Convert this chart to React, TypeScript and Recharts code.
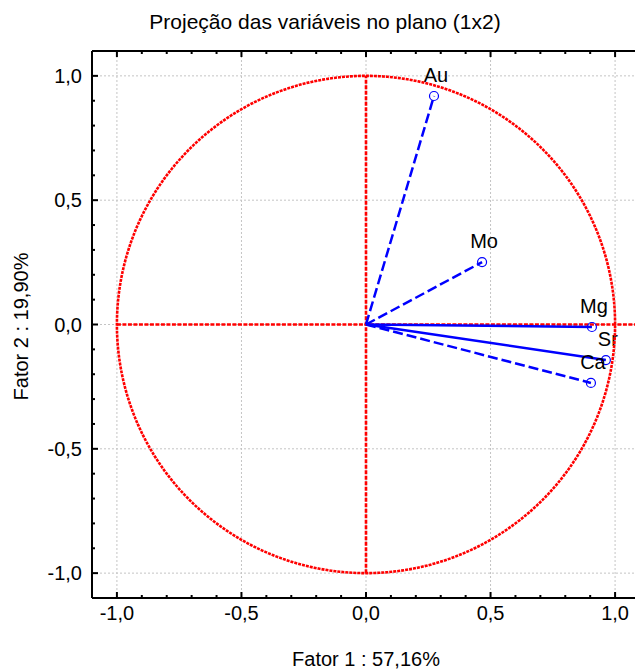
import { ReferenceLine, Scatter, ScatterChart, XAxis, YAxis } from "recharts";

const VARIABLES = ["Au", "Mo", "Mg", "Sr", "Ca"];
const FACTOR_1 = [0.273, 0.466, 0.907, 0.963, 0.903];
const FACTOR_2 = [0.919, 0.251, -0.01, -0.143, -0.235];
const DASHED = [true, true, false, false, true];

const AXIS_TICKS = [
  -1.0, -0.9, -0.8, -0.7, -0.6, -0.5, -0.4, -0.3, -0.2, -0.1, 0.0,
  0.1, 0.2, 0.3, 0.4, 0.5, 0.6, 0.7, 0.8, 0.9, 1.0,
];
const GRID_VALUES = [-1.0, -0.5, 0.0, 0.5, 1.0];
const DOMAIN: [number, number] = [-1.1, 1.1];

// correlation circle (radius 1) – a reference shape, not read from the picture
const UNIT_CIRCLE = Array.from({ length: 361 }, (_, i) => ({
  x: Math.cos((i * Math.PI) / 180),
  y: Math.sin((i * Math.PI) / 180),
}));

const vectors = VARIABLES.map((name, i) => ({
  name,
  dashed: DASHED[i],
  data: [
    { x: 0, y: 0 },
    { x: FACTOR_1[i], y: FACTOR_2[i], name },
  ],
}));

const FONT = "'Liberation Sans', Arial, sans-serif";
const RED = "#ff0000";
const BLUE = "#0000ff";

function isMajor(v: number) {
  return Math.abs(v * 2 - Math.round(v * 2)) < 1e-6;
}

function fmt(v: number) {
  return v.toFixed(1).replace(".", ",");
}

function BottomTick({ x, y, payload }: any) {
  const major = isMajor(payload.value);
  return (
    <g>
      <line x1={x} y1={y} x2={x} y2={y - (major ? 6 : 3)} stroke="#000" strokeWidth={2} />
      {major && (
        <text x={x} y={y + 22} textAnchor="middle" fontSize={20} fontFamily={FONT} fill="#000">
          {fmt(payload.value)}
        </text>
      )}
    </g>
  );
}

function TopTick({ x, y, payload }: any) {
  const major = isMajor(payload.value);
  return <line x1={x} y1={y} x2={x} y2={y + (major ? 6 : 3)} stroke="#000" strokeWidth={2} />;
}

function LeftTick({ x, y, payload }: any) {
  const major = isMajor(payload.value);
  return (
    <g>
      <line x1={x} y1={y} x2={x + (major ? 6 : 3)} y2={y} stroke="#000" strokeWidth={2} />
      {major && (
        <text x={x - 10} y={y + 7} textAnchor="end" fontSize={20} fontFamily={FONT} fill="#000">
          {fmt(payload.value)}
        </text>
      )}
    </g>
  );
}

function VectorEnd(props: any) {
  const { cx, cy, payload } = props;
  if (!payload || !payload.name) return <g />;
  return (
    <g>
      <circle cx={cx} cy={cy} r={4.5} fill="none" stroke={BLUE} strokeWidth={1.2} />
      <text x={cx + 2} y={cy - 14} textAnchor="middle" fontSize={20} fontFamily={FONT} fill="#000">
        {payload.name}
      </text>
    </g>
  );
}

export default function App() {
  return (
    <div style={{ position: "absolute", left: 0, top: 0, width: 635, height: 671, overflow: "hidden", background: "#fff" }}>
      <svg width={635} height={50} style={{ position: "absolute", left: 0, top: 0 }}>
        <text x={325} y={29} textAnchor="middle" fontSize={21} fontFamily={FONT} fill="#000">
          Projeção das variáveis no plano (1x2)
        </text>
      </svg>
      <div style={{ position: "absolute", left: 0, top: 0 }}>
        <ScatterChart width={640} height={671} margin={{ top: 50, right: 0, bottom: 0, left: 0 }}>
          <XAxis
            xAxisId="bottom"
            type="number"
            dataKey="x"
            domain={DOMAIN}
            ticks={AXIS_TICKS}
            interval={0}
            allowDataOverflow
            height={73}
            tickSize={0}
            tickMargin={0}
            tick={<BottomTick />}
            axisLine={{ stroke: "#000", strokeWidth: 2 }}
            label={({ viewBox }: any) => (
              <text x={viewBox.x + viewBox.width / 2} y={666} textAnchor="middle" fontSize={20} fontFamily={FONT} fill="#000">
                Fator 1 : 57,16%
              </text>
            )}
          />
          <XAxis
            xAxisId="top"
            orientation="top"
            type="number"
            dataKey="x"
            domain={DOMAIN}
            ticks={AXIS_TICKS}
            interval={0}
            allowDataOverflow
            height={1}
            tickSize={0}
            tickMargin={0}
            tick={<TopTick />}
            axisLine={{ stroke: "#000", strokeWidth: 2 }}
          />
          <YAxis
            type="number"
            dataKey="y"
            domain={DOMAIN}
            ticks={AXIS_TICKS}
            interval={0}
            allowDataOverflow
            width={92}
            tickSize={0}
            tickMargin={0}
            tick={<LeftTick />}
            axisLine={{ stroke: "#000", strokeWidth: 2 }}
            label={({ viewBox }: any) => (
              <text
                transform={`translate(28, ${viewBox.y + viewBox.height / 2 + 2}) rotate(-90)`}
                textAnchor="middle"
                fontSize={20}
                fontFamily={FONT}
                fill="#000"
              >
                Fator 2 : 19,90%
              </text>
            )}
          />

          {GRID_VALUES.map((v) => (
            <ReferenceLine key={`gx${v}`} xAxisId="bottom" x={v} stroke="#c4c4c4" strokeDasharray="2 2" strokeWidth={1} />
          ))}
          {GRID_VALUES.map((v) => (
            <ReferenceLine key={`gy${v}`} xAxisId="bottom" y={v} stroke="#c4c4c4" strokeDasharray="2 2" strokeWidth={1} />
          ))}

          {vectors.map((v) => (
            <Scatter
              key={v.name}
              xAxisId="bottom"
              data={v.data}
              line={{ stroke: BLUE, strokeWidth: 2.5, strokeDasharray: v.dashed ? "10 4" : undefined }}
              shape={<VectorEnd />}
              isAnimationActive={false}
            />
          ))}

          <Scatter
            xAxisId="bottom"
            data={UNIT_CIRCLE}
            line={{ stroke: RED, strokeWidth: 2.6, strokeDasharray: "3 1" }}
            shape={() => <g />}
            isAnimationActive={false}
          />
          <ReferenceLine
            xAxisId="bottom"
            segment={[{ x: -1, y: 0 }, { x: 1.1, y: 0 }]}
            stroke={RED}
            strokeWidth={2.6}
            strokeDasharray="4 1.5"
          />
          <ReferenceLine
            xAxisId="bottom"
            segment={[{ x: 0, y: -1 }, { x: 0, y: 1 }]}
            stroke={RED}
            strokeWidth={2.6}
            strokeDasharray="4 1.5"
          />
        </ScatterChart>
      </div>
    </div>
  );
}
